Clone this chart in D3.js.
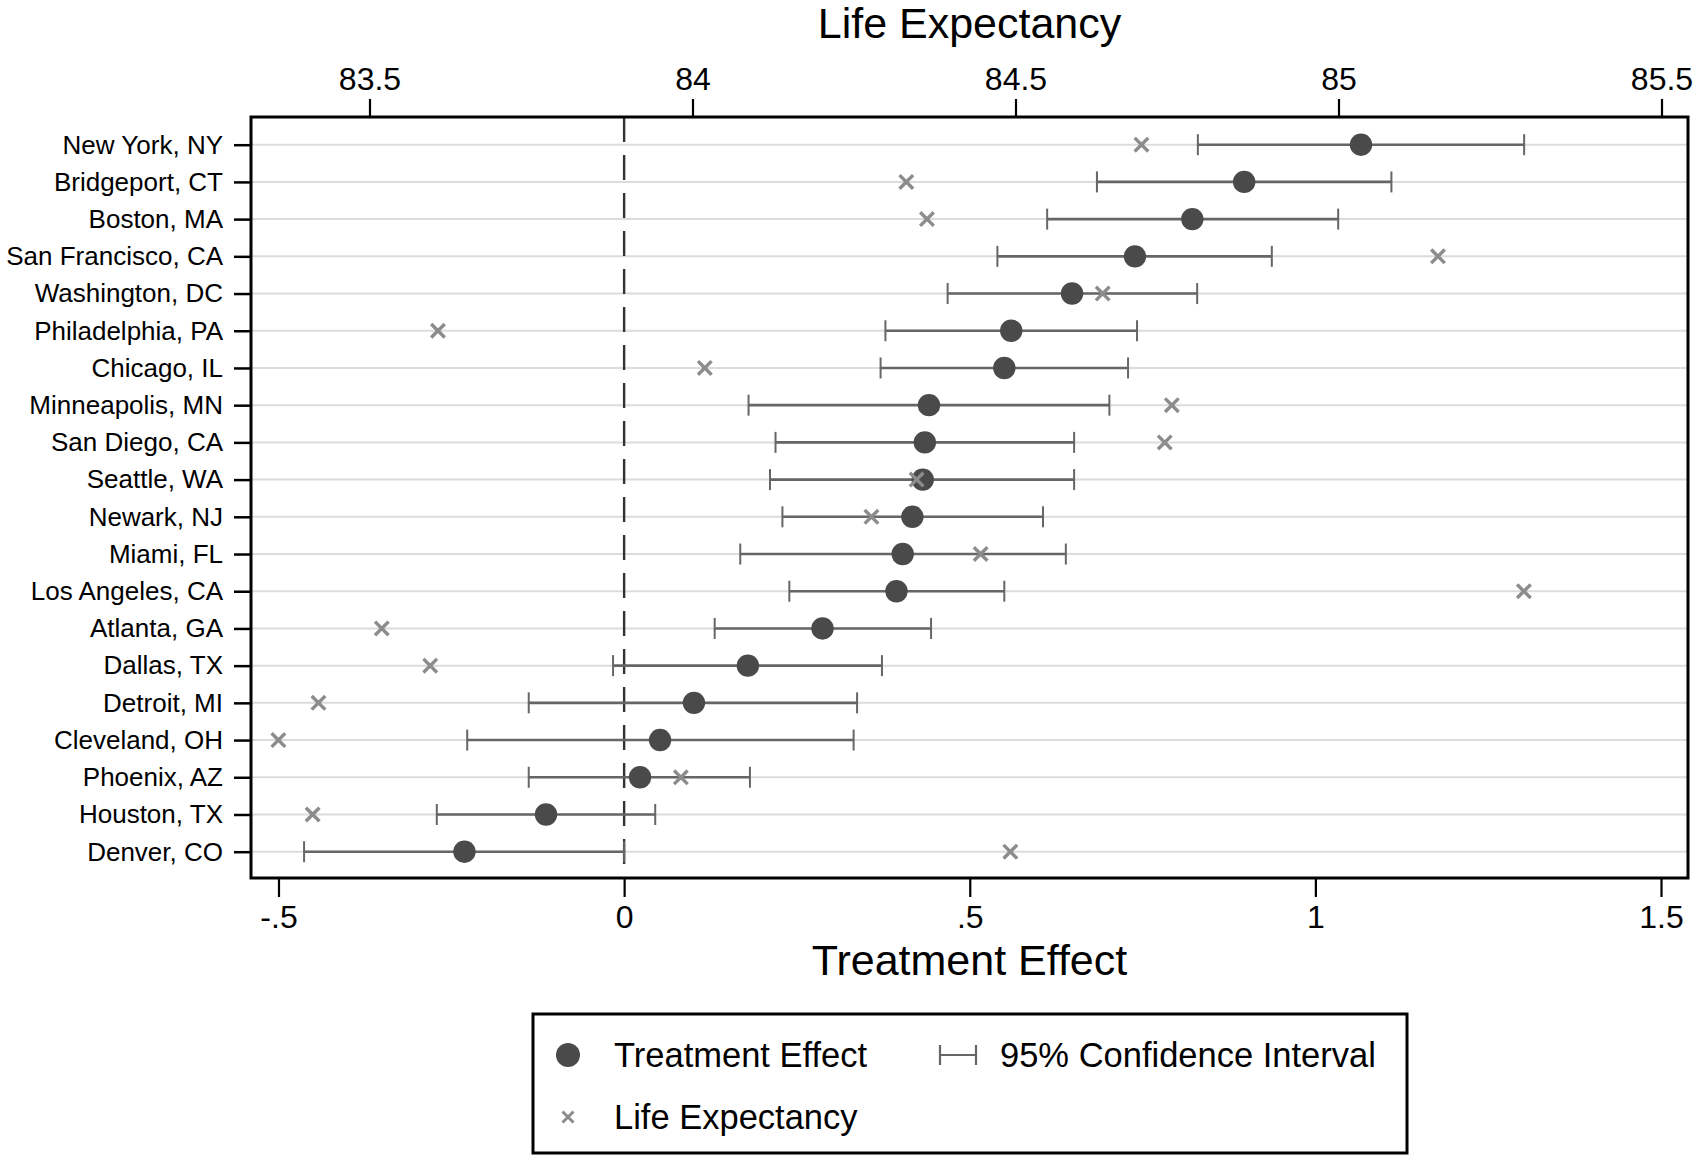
<!DOCTYPE html>
<html>
<head>
<meta charset="utf-8">
<script src="https://cdn.jsdelivr.net/npm/d3@7"></script>
<style>
  html, body { margin: 0; padding: 0; background: #fff; }
  svg { display: block; font-family: "Liberation Sans", Arial, Helvetica, sans-serif; }
</style>
</head>
<body>
<svg id="chart" width="1701" height="1162"></svg>
<script>
// ---- data ----
const cities = ["New York, NY","Bridgeport, CT","Boston, MA","San Francisco, CA","Washington, DC",
  "Philadelphia, PA","Chicago, IL","Minneapolis, MN","San Diego, CA","Seattle, WA","Newark, NJ",
  "Miami, FL","Los Angeles, CA","Atlanta, GA","Dallas, TX","Detroit, MI","Cleveland, OH",
  "Phoenix, AZ","Houston, TX","Denver, CO"];
const treatmentEffect = [1.066,0.897,0.822,0.739,0.648,0.560,0.550,0.441,0.435,0.432,0.417,
  0.403,0.394,0.287,0.179,0.101,0.052,0.023,-0.113,-0.231];
const ciLow = [0.830,0.684,0.612,0.540,0.468,0.378,0.371,0.180,0.219,0.211,0.229,
  0.168,0.239,0.131,-0.016,-0.138,-0.227,-0.138,-0.271,-0.463];
const ciHigh = [1.302,1.110,1.033,0.937,0.829,0.742,0.729,0.702,0.651,0.651,0.606,
  0.639,0.550,0.444,0.373,0.337,0.332,0.182,0.045,0.000];
const lifeExpectancy = [84.695,84.331,84.363,85.154,84.635,83.606,84.019,84.742,84.731,84.347,84.277,
  84.446,85.287,83.519,83.594,83.421,83.359,83.982,83.412,84.492];
const teTicks = [-0.5,0,0.5,1,1.5];
const teTickLabels = ["-.5","0",".5","1","1.5"];
const leTicks = [83.5,84,84.5,85,85.5];
const leTickLabels = ["83.5","84","84.5","85","85.5"];

const rows = cities.map((c,i)=>({city:c, te:treatmentEffect[i], lo:ciLow[i], hi:ciHigh[i], le:lifeExpectancy[i]}));

// ---- layout ----
const plot = {left: 251, right: 1688, top: 117, bottom: 878};
const svg = d3.select("#chart");

const xTE = d3.scaleLinear().domain([-0.5, 1.5]).range([278.5, 1661]);
const xLE = d3.scaleLinear().domain([83.5, 85.5]).range([369.5, 1661.5]);
const y = d3.scalePoint().domain(cities).range([144.7, 851.7]);

const dotColor = "#4a4a4a", ciColor = "#666666", xColor = "#8c8c8c", gridColor = "#dcdcdc";

// gridlines
svg.append("g").selectAll("line").data(cities).join("line")
  .attr("x1", plot.left).attr("x2", plot.right)
  .attr("y1", d=>y(d)).attr("y2", d=>y(d))
  .attr("stroke", gridColor).attr("stroke-width", 2);

// zero reference line
svg.append("line")
  .attr("x1", xTE(0)).attr("x2", xTE(0))
  .attr("y1", plot.top).attr("y2", plot.bottom)
  .attr("stroke", "#333").attr("stroke-width", 2.4)
  .attr("stroke-dasharray", "25,13");

// CI
const ci = svg.append("g").selectAll("g").data(rows).join("g");
ci.append("line").attr("x1", d=>xTE(d.lo)).attr("x2", d=>xTE(d.hi))
  .attr("y1", d=>y(d.city)).attr("y2", d=>y(d.city))
  .attr("stroke", ciColor).attr("stroke-width", 2.6);
ci.append("line").attr("x1", d=>xTE(d.lo)).attr("x2", d=>xTE(d.lo))
  .attr("y1", d=>y(d.city)-10.5).attr("y2", d=>y(d.city)+10.5)
  .attr("stroke", ciColor).attr("stroke-width", 2);
ci.append("line").attr("x1", d=>xTE(d.hi)).attr("x2", d=>xTE(d.hi))
  .attr("y1", d=>y(d.city)-10.5).attr("y2", d=>y(d.city)+10.5)
  .attr("stroke", ciColor).attr("stroke-width", 2);

// dots
svg.append("g").selectAll("circle").data(rows).join("circle")
  .attr("cx", d=>xTE(d.te)).attr("cy", d=>y(d.city)).attr("r", 11.2)
  .attr("fill", dotColor);

// crosses
const xs = 6.8;
svg.append("g").selectAll("path").data(rows).join("path")
  .attr("d", d=>{const cx=xLE(d.le), cy=y(d.city);
    return `M${cx-xs},${cy-xs}L${cx+xs},${cy+xs}M${cx-xs},${cy+xs}L${cx+xs},${cy-xs}`;})
  .attr("stroke", xColor).attr("stroke-width", 3.4).attr("fill","none");

// plot box
svg.append("rect").attr("x", plot.left).attr("y", plot.top)
  .attr("width", plot.right-plot.left).attr("height", plot.bottom-plot.top)
  .attr("fill","none").attr("stroke","#000").attr("stroke-width",3);

// axes
const bottomAxis = d3.axisBottom(xTE).tickValues(teTicks)
  .tickFormat((d,i)=>teTickLabels[i]).tickSize(19).tickPadding(8);
const gB = svg.append("g").attr("transform", `translate(0,${plot.bottom})`).call(bottomAxis);
gB.select(".domain").remove();
gB.selectAll(".tick line").attr("stroke","#000").attr("stroke-width",2.2);
gB.selectAll(".tick text").attr("font-size", 32).attr("fill","#000")
  .attr("font-family",'"Liberation Sans", Arial, sans-serif');

const topAxis = d3.axisTop(xLE).tickValues(leTicks)
  .tickFormat((d,i)=>leTickLabels[i]).tickSize(18).tickPadding(9);
const gT = svg.append("g").attr("transform", `translate(0,${plot.top})`).call(topAxis);
gT.select(".domain").remove();
gT.selectAll(".tick line").attr("stroke","#000").attr("stroke-width",2.2);
gT.selectAll(".tick text").attr("font-size", 32).attr("fill","#000")
  .attr("font-family",'"Liberation Sans", Arial, sans-serif');

const leftAxis = d3.axisLeft(y).tickSize(17).tickPadding(11);
const gL = svg.append("g").attr("transform", `translate(${plot.left},0)`).call(leftAxis);
gL.select(".domain").remove();
gL.selectAll(".tick line").attr("stroke","#000").attr("stroke-width",2.5);
gL.selectAll(".tick text").attr("font-size", 26).attr("fill","#000")
  .attr("font-family",'"Liberation Sans", Arial, sans-serif');

// axis titles
const midX = (plot.left+plot.right)/2;
svg.append("text").attr("x", midX).attr("y", 38).attr("text-anchor","middle")
  .attr("font-size", 43).text("Life Expectancy");
svg.append("text").attr("x", midX).attr("y", 975).attr("text-anchor","middle")
  .attr("font-size", 43).text("Treatment Effect");

// legend
const lg = svg.append("g");
lg.append("rect").attr("x", 533).attr("y", 1014).attr("width", 874).attr("height", 139)
  .attr("fill","#fff").attr("stroke","#000").attr("stroke-width",3);
const row1 = 1055, row2 = 1117;
lg.append("circle").attr("cx", 568).attr("cy", row1).attr("r", 12).attr("fill", dotColor);
lg.append("text").attr("x", 614).attr("y", row1).attr("dy","0.35em").attr("font-size",34.5).text("Treatment Effect");
lg.append("path").attr("d", `M940,${row1}H976M940,${row1-10}V${row1+10}M976,${row1-10}V${row1+10}`)
  .attr("stroke", ciColor).attr("stroke-width", 2.2).attr("fill","none");
lg.append("text").attr("x", 1000).attr("y", row1).attr("dy","0.35em").attr("font-size",34.5).text("95% Confidence Interval");
const lx = 568, ls = 5.5;
lg.append("path").attr("d", `M${lx-ls},${row2-ls}L${lx+ls},${row2+ls}M${lx-ls},${row2+ls}L${lx+ls},${row2-ls}`)
  .attr("stroke", xColor).attr("stroke-width", 3).attr("fill","none");
lg.append("text").attr("x", 614).attr("y", row2).attr("dy","0.35em").attr("font-size",34.5).text("Life Expectancy");
</script>
</body>
</html>
